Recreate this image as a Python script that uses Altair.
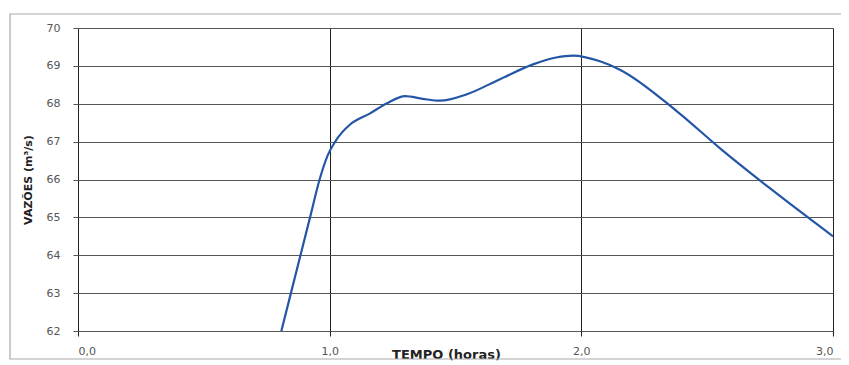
import altair as alt
import pandas as pd

# Data
tempo = [0.808, 0.846, 0.884, 0.922, 0.960, 0.993, 1.02, 1.05, 1.079, 1.159, 1.23, 1.30,
         1.37, 1.438, 1.545, 1.677, 1.808, 1.9, 1.967, 2.074, 2.153, 2.38, 2.55, 2.749, 3.0]
vazao = [62.0, 63.0, 64.0, 65.0, 66.0, 66.65, 66.98, 67.25, 67.44, 67.74, 68.02, 68.2,
         68.13, 68.08, 68.25, 68.65, 69.04, 69.22, 69.27, 69.12, 68.9, 67.8, 66.83, 65.77, 64.5]
x_ticks = [0, 1, 2, 3]
y_ticks = [62, 63, 64, 65, 66, 67, 68, 69, 70]

df = pd.DataFrame({"t": tempo, "q": vazao})

W, H = 755, 303
FONT = "DejaVu Sans"

x_scale = alt.Scale(domain=[0, 3], nice=False, zero=False)
y_scale = alt.Scale(domain=[62, 70], nice=False, zero=False)

x_axis = alt.Axis(
    values=x_ticks, labelExpr="replace(format(datum.value, '.1f'), '.', ',')",
    grid=True, gridColor="#222", gridWidth=1,
    domain=False, ticks=True, tickSize=5, tickColor="#222",
    labelColor="#555", labelFont=FONT, labelFontSize=11, labelPadding=9,
    title="TEMPO (horas)", titleFont=FONT, titleFontSize=13, titleFontWeight="bold",
    titleColor="#222", titleX=368, titleY=23, titleAlign="center", titleBaseline="middle",
)
y_axis = alt.Axis(
    values=y_ticks, format="d",
    grid=True, gridColor="#555", gridWidth=1,
    domain=False, ticks=True, tickSize=5, tickColor="#555",
    labelColor="#555", labelFont=FONT, labelFontSize=11, labelPadding=13,
    title="VAZÕES (m³/s)", titleFont=FONT, titleFontSize=11, titleFontWeight="bold",
    titleColor="#222", titleX=-50, titleY=H / 2, titleAngle=-90,
    titleAlign="center", titleBaseline="middle",
)

line = alt.Chart(df).mark_line(
    color="#2456a6", strokeWidth=2.2, interpolate="monotone", clip=True
).encode(
    x=alt.X("t:Q", scale=x_scale, axis=x_axis),
    y=alt.Y("q:Q", scale=y_scale, axis=y_axis),
)

outer = alt.Chart(pd.DataFrame({"a": [0]})).mark_rect(
    fill=None, stroke="#aaa", strokeWidth=1.2, clip=False
).encode(
    x=alt.value(-68), x2=alt.value(800), y=alt.value(-14), y2=alt.value(331)
)

chart = alt.layer(outer, line).properties(
    width=W, height=H,
    padding={"left": 70, "top": 20, "right": 8, "bottom": 34},
    autosize=alt.AutoSizeParams(type="none"),
).configure_view(
    stroke="#222", strokeWidth=1.6, fill="white"
).configure(background="white")

chart.save("out.html", embed_options={"renderer": "svg", "actions": False})
